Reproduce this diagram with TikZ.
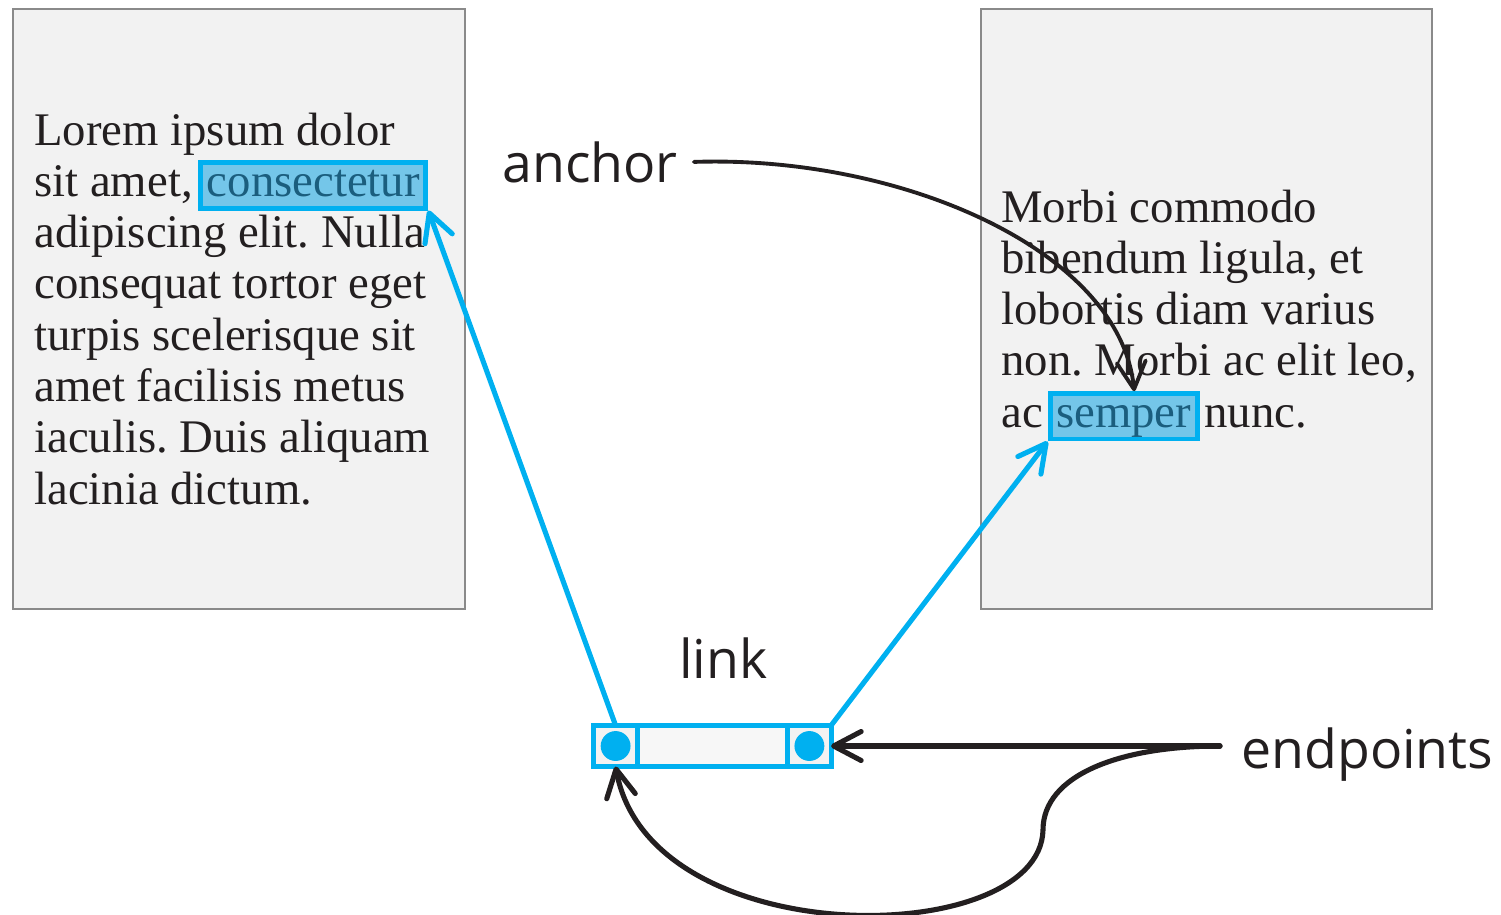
\documentclass[tikz,border=0pt]{standalone}
\usepackage{fontspec}
\setmainfont{Liberation Serif}
\newfontfamily\labelfont{Open Sans}
\usepackage{tikz}
\usetikzlibrary{arrows.meta,positioning,calc}
\frenchspacing

\definecolor{linkblue}{HTML}{00B0F0}
\definecolor{hlfill}{HTML}{74C6E9}
\definecolor{hltext}{HTML}{1B5E7E}
\definecolor{pagefill}{HTML}{F2F2F2}
\definecolor{midfill}{HTML}{F7F7F7}
\definecolor{pageline}{HTML}{8A8A8A}
\definecolor{ink}{HTML}{231F20}

\begin{document}
\begin{tikzpicture}[x=0.02cm,y=-0.02cm,
  page/.style={draw=pageline,fill=pagefill,line width=0.9pt},
  body/.style={anchor=base west,inner sep=0pt,text=ink,font=\fontsize{26.6}{29}\selectfont},
  hl/.style={body,draw=linkblue,fill=hlfill,text=hltext,line width=2.8pt,
    inner xsep=3.5pt,inner ysep=0.5pt,text height=18.6pt,text depth=6.2pt},
  lbl/.style={anchor=base west,inner sep=0pt,text=ink,font=\labelfont\fontsize{30.5}{36}\selectfont},
  cell/.style={draw=linkblue,fill=pagefill,line width=2.9pt,minimum height=23.4pt,
    minimum width=24.7pt,outer sep=0pt,inner sep=0pt},
  dot/.style={circle,fill=linkblue,minimum size=17pt,inner sep=0pt},
  tip/.style={-{Straight Barb[round,length=5.5mm,width=5.8mm]}},
  blink/.style={linkblue,line width=2.9pt,line cap=round,tip},
  callout/.style={ink,line width=2.9pt,line cap=round,tip},
]
\useasboundingbox (0,0) rectangle (1501,914);

% the two pages
\draw[page] (13,9) rectangle (465,609);
\draw[page] (981,9) rectangle (1432,609);

\foreach \t [count=\i] in {Lorem ipsum dolor,{sit amet,},adipiscing elit. Nulla,
    consequat tortor eget,turpis scelerisque sit,amet facilisis metus,
    iaculis. Duis aliquam,lacinia dictum.}
  \node[body] (l\i) at (34,{145+(\i-1)*51.3}) {\t};
\node[hl,right=3pt of l2.base east,anchor=base west] (cons) {consectetur};

\foreach \t [count=\i] in {Morbi commodo,{bibendum ligula, et},lobortis diam varius,
    {non. Morbi ac elit leo,},ac}
  \node[body] (r\i) at (1001,{222+(\i-1)*51.3}) {\t};
\node[hl,right=2.5pt of r5.base east,anchor=base west] (semp) {semper};
\node[body,right=2.5pt of semp.base east,anchor=base west] (r6) {nunc.};

% link with its two endpoints
\node[cell,fill=midfill,minimum width=85.6pt] (lbody) at (712.5,746) {};
\node[cell,left=0pt of lbody] (lcell) {};
\node[cell,right=0pt of lbody] (rcell) {};
\node[dot] (ldot) at (lcell) {};
\node[dot] (rdot) at (rcell) {};

\node[lbl] (anchorlbl) at (502,182) {anchor};
\node[lbl] (linklbl) at (679,678) {link};
\node[lbl] (endlbl) at (1241,768) {endpoints};
\coordinate (fork) at (1220,746);

\draw[blink] (lcell.north) -- (cons.south east);
\draw[blink] (rcell.north east) -- (semp.south west);

\draw[callout] (fork) -- (rcell.east);
\draw[callout] (fork) .. controls (1120,746) and (1043,775) .. (1043,830)
  .. controls (1040,950) and (650,955) .. (lcell.south);
\draw[callout,line width=2.2pt] ([xshift=9pt]anchorlbl.east)
  .. controls (900,155) and (1120,250) .. ([xshift=6pt]semp.north);
\end{tikzpicture}
\end{document}
